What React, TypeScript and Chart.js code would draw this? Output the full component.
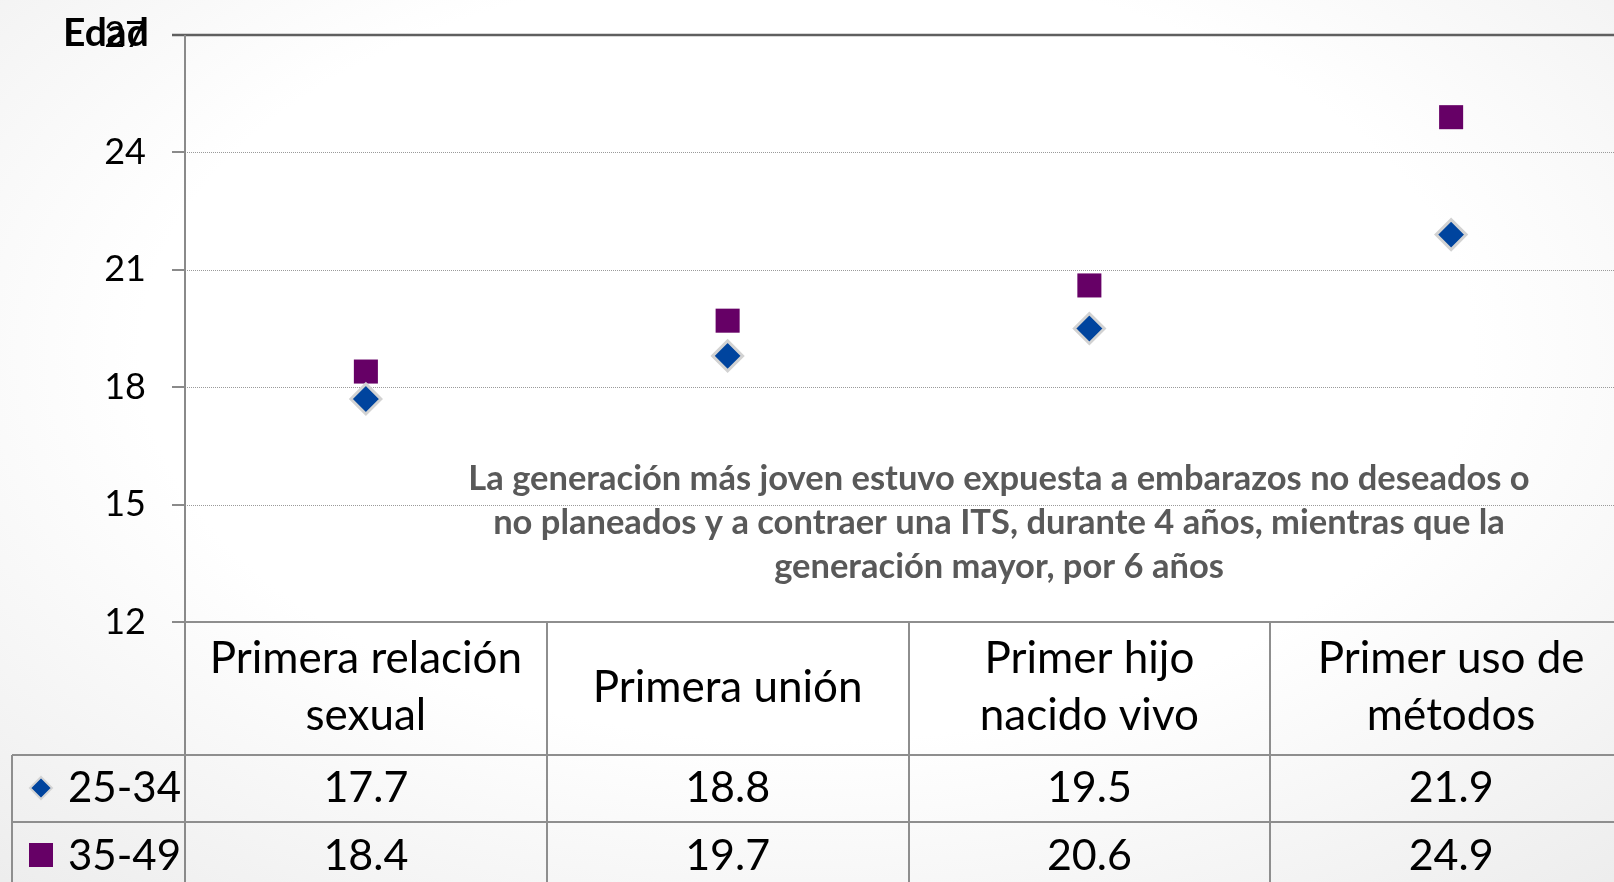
import React, { useEffect, useRef } from "react";
import { Chart, registerables } from "chart.js";

Chart.register(...registerables);

// ---- data ----
const categories: string[][] = [
  ["Primera relación", "sexual"],
  ["Primera unión"],
  ["Primer hijo", "nacido vivo"],
  ["Primer uso de", "métodos"],
];
const seriesALabel = "25-34";
const seriesAValues = [17.7, 18.8, 19.5, 21.9];
const seriesBLabel = "35-49";
const seriesBValues = [18.4, 19.7, 20.6, 24.9];
const yMin = 12;
const yMax = 27;
const yStep = 3;
const yTitle = "Edad";
const noteLines = [
  "La generación más joven estuvo expuesta a embarazos no deseados o",
  "no planeados y a contraer una ITS, durante 4 años, mientras que la",
  "generación mayor, por 6 años",
];

// ---- style ----
const FONT = "Lato";
const COLOR_A = "#00449e";
const COLOR_B = "#660066";
const LINE_GRAY = "#8e8e8e";
const HEADER_H = 133;
const ROW_H = 67;
const TICK_LEN = 13;
const LEGEND_LEFT = 12;

function line(ctx: CanvasRenderingContext2D, x1: number, y1: number, x2: number, y2: number) {
  ctx.beginPath();
  ctx.moveTo(x1, y1);
  ctx.lineTo(x2, y2);
  ctx.stroke();
}

const tablePlugin = {
  id: "tablePlugin",
  beforeDatasetsDraw(chart: any) {
    const ctx: CanvasRenderingContext2D = chart.ctx;
    const { left, top, bottom } = chart.chartArea;
    const W = chart.width;
    const H = chart.height;
    const ys = chart.scales.y;
    const xs = chart.scales.x;
    ctx.save();
    // dotted grid
    ctx.strokeStyle = "#9a9a9a";
    ctx.lineWidth = 1;
    ctx.setLineDash([1, 1]);
    ys.ticks.forEach((t: any) => {
      if (t.value > yMin && t.value < yMax) {
        const py = Math.round(ys.getPixelForValue(t.value)) + 0.5;
        line(ctx, left, py, W, py);
      }
    });
    ctx.setLineDash([]);
    // tick marks
    ctx.strokeStyle = "#8a8a8a";
    ctx.lineWidth = 2;
    ys.ticks.forEach((t: any) => {
      const py = Math.round(ys.getPixelForValue(t.value));
      line(ctx, left - TICK_LEN, py, left, py);
    });
    // top line
    ctx.strokeStyle = "#5f5f5f";
    ctx.lineWidth = 2.5;
    line(ctx, left - TICK_LEN, top, W, top);
    // left axis
    ctx.strokeStyle = "#8a8a8a";
    ctx.lineWidth = 2;
    line(ctx, left, top, left, H);
    // table
    ctx.strokeStyle = LINE_GRAY;
    line(ctx, left, bottom, W, bottom);
    const r1 = bottom + HEADER_H;
    const r2 = r1 + ROW_H;
    line(ctx, LEGEND_LEFT, r1, W, r1);
    line(ctx, LEGEND_LEFT, r2, W, r2);
    line(ctx, LEGEND_LEFT, r1, LEGEND_LEFT, H);
    for (let i = 0; i < categories.length - 1; i++) {
      const bx = Math.round((xs.getPixelForValue(i) + xs.getPixelForValue(i + 1)) / 2);
      line(ctx, bx, bottom, bx, H);
    }
    ctx.restore();
  },
  afterDraw(chart: any) {
    const ctx: CanvasRenderingContext2D = chart.ctx;
    const { bottom } = chart.chartArea;
    const xs = chart.scales.x;
    ctx.save();
    // y title
    ctx.fillStyle = "#000";
    ctx.font = `bold 39px ${FONT}`;
    ctx.textAlign = "left";
    ctx.textBaseline = "alphabetic";
    ctx.fillText(yTitle, 63, 46);
    // note
    ctx.fillStyle = "#595959";
    ctx.font = `bold 34.5px ${FONT}`;
    ctx.textAlign = "center";
    noteLines.forEach((s, i) => ctx.fillText(s, 999, 490 + i * 44));
    // header
    ctx.fillStyle = "#000";
    ctx.font = `44px ${FONT}`;
    categories.forEach((lines, i) => {
      const cx = xs.getPixelForValue(i);
      if (lines.length === 1) {
        ctx.fillText(lines[0], cx, bottom + 80);
      } else {
        lines.forEach((s, j) => ctx.fillText(s, cx, bottom + 51 + j * 57));
      }
    });
    const r1 = bottom + HEADER_H;
    const r2 = r1 + ROW_H;
    const base1 = r1 + 47;
    const base2 = r2 + 48;
    ctx.font = `43px ${FONT}`;
    seriesAValues.forEach((v, i) => ctx.fillText(v.toFixed(1), xs.getPixelForValue(i), base1));
    seriesBValues.forEach((v, i) => ctx.fillText(v.toFixed(1), xs.getPixelForValue(i), base2));
    // legend cells
    ctx.font = `42px ${FONT}`;
    ctx.textAlign = "left";
    ctx.fillText(seriesALabel, 68, base1);
    ctx.fillText(seriesBLabel, 68, base2);
    const dx = 41, dy = r1 + 33, dr = 11;
    ctx.beginPath();
    ctx.moveTo(dx - dr, dy);
    ctx.lineTo(dx, dy - dr);
    ctx.lineTo(dx + dr, dy);
    ctx.lineTo(dx, dy + dr);
    ctx.closePath();
    ctx.fillStyle = COLOR_A;
    ctx.fill();
    ctx.strokeStyle = "#d4d4d4";
    ctx.lineWidth = 2;
    ctx.stroke();
    ctx.fillStyle = COLOR_B;
    ctx.fillRect(29, r2 + 21, 24, 24);
    ctx.restore();
  },
};

export default function App() {
  const ref = useRef<HTMLCanvasElement>(null);
  useEffect(() => {
    const chart = new Chart(ref.current as HTMLCanvasElement, {
      type: "line",
      data: {
        labels: categories.map((c) => c.join(" ")),
        datasets: [
          {
            label: seriesALabel,
            data: seriesAValues,
            showLine: false,
            pointStyle: "rectRot",
            pointRadius: 15,
            backgroundColor: COLOR_A,
            borderColor: "#d2d2d2",
            borderWidth: 3,
          },
          {
            label: seriesBLabel,
            data: seriesBValues,
            showLine: false,
            pointStyle: "rect",
            pointRadius: 17,
            backgroundColor: COLOR_B,
            borderColor: COLOR_B,
            borderWidth: 0,
          },
        ],
      },
      options: {
        responsive: false,
        devicePixelRatio: 1,
        animation: false,
        layout: { padding: { top: 35, bottom: 260, left: 0, right: 0 } },
        plugins: { legend: { display: false }, tooltip: { enabled: false } },
        scales: {
          x: { type: "category", offset: true, display: false },
          y: {
            min: yMin,
            max: yMax,
            ticks: {
              stepSize: yStep,
              font: { family: FONT, size: 36 },
              color: "#000",
              padding: 0,
            },
            grid: { color: "rgba(0,0,0,0)", tickLength: 39, drawTicks: true },
            border: { display: false },
            afterFit: (s: any) => {
              s.width = 185;
            },
          },
        },
      },
      plugins: [tablePlugin],
    } as any);
    return () => chart.destroy();
  }, []);
  return (
    <div
      style={{
        position: "fixed",
        left: 0,
        top: 0,
        width: 1614,
        height: 882,
        overflow: "hidden",
        background: "radial-gradient(ellipse 75% 80% at 50% 40%, #ffffff 55%, #ededed 100%)",
      }}
    >
      <canvas ref={ref} width={1650} height={882} style={{ display: "block", width: 1650, height: 882 }} />
    </div>
  );
}
